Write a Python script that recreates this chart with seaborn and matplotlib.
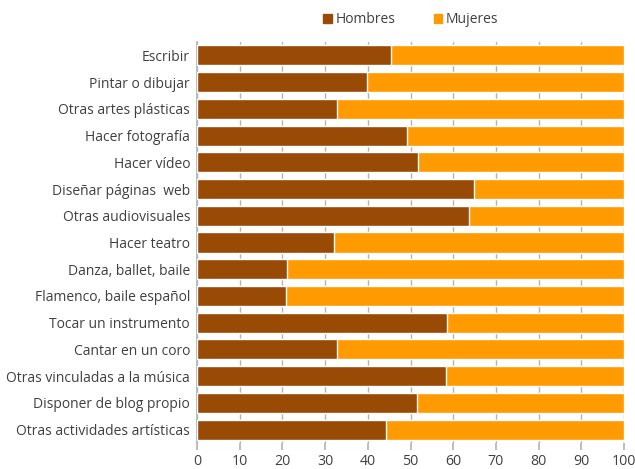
import matplotlib
matplotlib.use("Agg")
import matplotlib.pyplot as plt
import seaborn as sns
import pandas as pd
from matplotlib.patches import Patch

categorias = ["Escribir", "Pintar o dibujar", "Otras artes plásticas", "Hacer fotografía",
              "Hacer vídeo", "Diseñar páginas  web", "Otras audiovisuales", "Hacer teatro",
              "Danza, ballet, baile", "Flamenco, baile español", "Tocar un instrumento",
              "Cantar en un coro", "Otras vinculadas a la música", "Disponer de blog propio",
              "Otras actividades artísticas"]
hombres = [45.4, 39.9, 32.7, 49.2, 51.8, 64.9, 63.8, 32.1, 21.1, 20.8, 58.5, 32.9, 58.3, 51.5, 44.3]
mujeres = [100 - h for h in hombres]
xticks = [0, 10, 20, 30, 40, 50, 60, 70, 80, 90, 100]

c_h = "#994A05"
c_m = "#FF9A00"
txt = "#404040"

sns.set_theme(style="white")
plt.rcParams['font.family'] = ['Open Sans', 'DejaVu Sans']

df = pd.DataFrame({"cat": categorias, "Hombres": hombres, "Mujeres": mujeres})
df["Total"] = df["Hombres"] + df["Mujeres"]

fig = plt.figure(figsize=(6.35, 4.69), dpi=100)
ax = fig.add_axes([197/635, 1 - 443/469, (624 - 197)/635, (443 - 42)/469])

sns.barplot(data=df, y="cat", x="Total", color=c_m, width=0.75, ax=ax, orient="h", saturation=1, zorder=2)
sns.barplot(data=df, y="cat", x="Hombres", color=c_h, width=0.75, ax=ax, orient="h", saturation=1, zorder=3)

ax.set_xlim(0, 100)
ax.set_xticks(xticks)
ax.set_xlabel("")
ax.set_ylabel("")
ax.xaxis.grid(True, color="#B5B5B5", linewidth=1, zorder=0)
ax.set_axisbelow(True)
for s in ["top", "right", "bottom"]:
    ax.spines[s].set_visible(False)
ax.spines["left"].set_color("#B5B5B5")
ax.tick_params(axis="x", length=5, color="#B5B5B5", labelsize=10.2, labelcolor=txt, pad=3, bottom=True)
ax.tick_params(axis="y", length=0, labelsize=10, labelcolor=txt, pad=5)

handles = [Patch(color=c_h, label="Hombres"), Patch(color=c_m, label="Mujeres")]
leg = fig.legend(handles=handles, loc="center", bbox_to_anchor=(0.647, 0.958), ncol=2, frameon=False,
                 fontsize=10, handlelength=0.6, handleheight=0.6, handletextpad=0.25, columnspacing=2.8)
for t in leg.get_texts():
    t.set_color(txt)

fig.savefig("out.png", dpi=100)
